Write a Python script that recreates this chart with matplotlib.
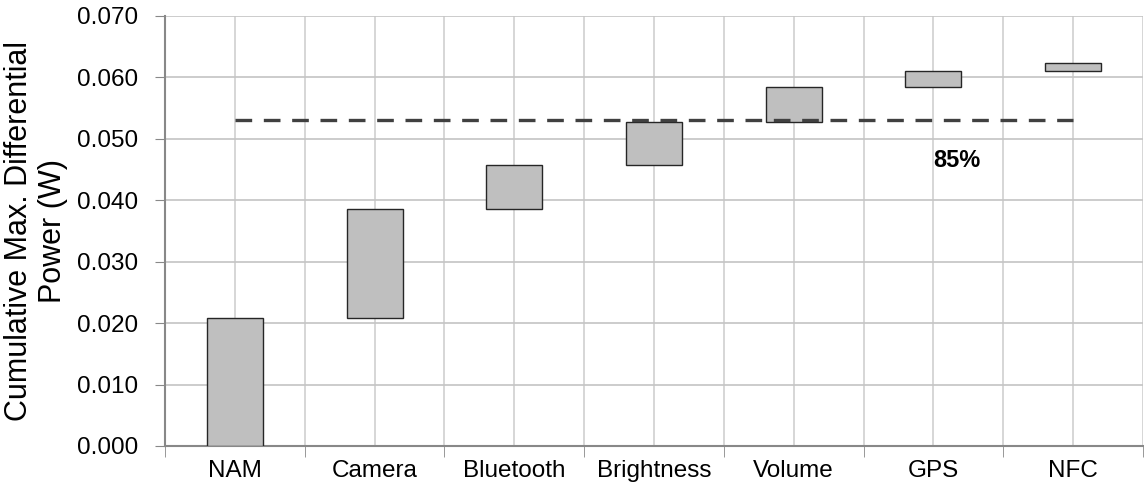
import matplotlib
matplotlib.use('Agg')
import matplotlib.pyplot as plt
import numpy as np

categories = ['NAM', 'Camera', 'Bluetooth', 'Brightness', 'Volume', 'GPS', 'NFC']
increments = [0.0209, 0.0177, 0.0071, 0.0070, 0.0057, 0.0027, 0.0013]
threshold = 0.0531
threshold_label = '85%'

plt.rcParams['font.family'] = ['Liberation Sans', 'DejaVu Sans']

tops = np.cumsum(increments)
bottoms = tops - np.array(increments)
x = np.arange(len(categories))

fig = plt.figure(figsize=(11.44, 4.91), dpi=100)
ax = fig.add_axes([165 / 1144, 45 / 491, 978 / 1144, 430 / 491])

ax.bar(x, increments, bottom=bottoms, width=0.4, color='#bfbfbf',
       edgecolor='#262626', linewidth=1.0, zorder=3)
ax.plot([x[0], x[-1]], [threshold, threshold], color='#404040',
        linewidth=2.4, dashes=(5, 3.5), zorder=4)
ax.text(5.17, 0.0465, threshold_label, fontsize=17, fontweight='bold',
        ha='center', va='center')

ax.set_xlim(-0.5, len(categories) - 0.5)
ax.set_ylim(0, 0.070)
ax.set_yticks(np.arange(0, 0.0701, 0.010))
ax.set_yticklabels(['%.3f' % v for v in np.arange(0, 0.0701, 0.010)],
                   fontsize=17.5)
ax.set_xticks(x)
ax.set_xticklabels(categories, fontsize=17.5)
ax.set_xticks(np.arange(-0.5, len(categories), 1.0), minor=True)
ax.tick_params(axis='x', which='major', length=0, pad=10)
ax.tick_params(axis='x', which='minor', length=8, color='#888888')
ax.tick_params(axis='y', length=7, color='#888888', pad=12)

ax.grid(True, axis='y', color='#c4c4c4', linewidth=1.2, zorder=0)
ax.grid(True, axis='x', which='both', color='#d0d0d0', linewidth=1.2,
        zorder=0)
ax.set_axisbelow(True)
for s in ['top', 'right']:
    ax.spines[s].set_visible(False)
for s in ['left', 'bottom']:
    ax.spines[s].set_color('#888888')
    ax.spines[s].set_linewidth(1.5)

ax.set_ylabel('Cumulative Max. Differential\nPower (W)', fontsize=22,
              labelpad=7, linespacing=1.15)

fig.savefig('out.png', dpi=100)
